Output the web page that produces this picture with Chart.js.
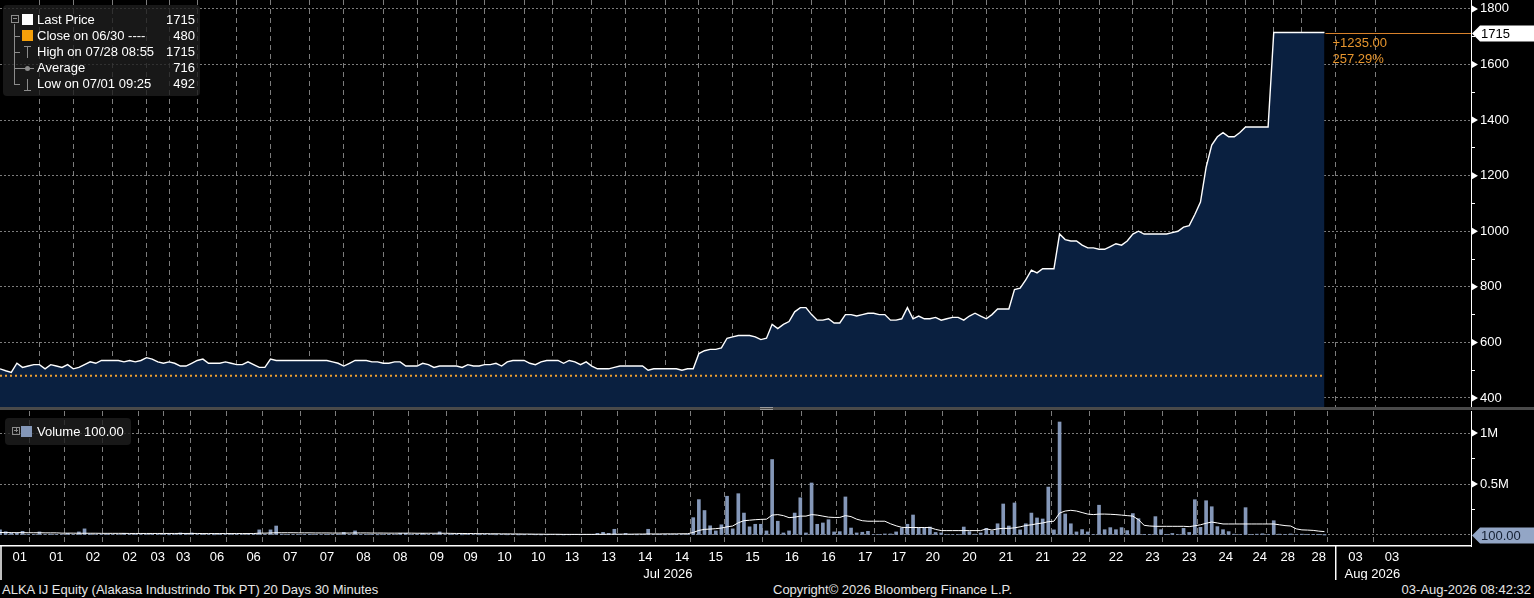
<!DOCTYPE html>
<html>
<head>
<meta charset="utf-8">
<script src="https://cdn.jsdelivr.net/npm/chart.js@4.4.1/dist/chart.umd.min.js"></script>
<style>
  body { margin: 0; background: #000; width: 1534px; height: 598px; overflow: hidden; position: relative;
         font-family: "Liberation Sans", Arial, sans-serif; font-size: 13px; color: #fff; }
  canvas { position: absolute; left: 0; }
  #priceChart { top: 0; }
  #volChart { top: 410px; }
  .sep { position: absolute; left: 0; top: 407px; width: 1534px; height: 3px; background: #4a4a4a; }
  .handle { position: absolute; left: 760px; width: 13px; height: 1px; background: #9a9a9a; }
  .legend { position: absolute; background: rgba(30, 30, 30, 0.8); border-radius: 4px; }
  .row { position: absolute; height: 16px; line-height: 16px; white-space: nowrap; }
  .val { position: absolute; height: 16px; line-height: 16px; text-align: right; width: 60px; }
  .ln { position: absolute; background: #8c8c8c; }
  .sq { position: absolute; width: 11px; height: 11px; }
  .box { position: absolute; width: 6px; height: 6px; border: 1px solid #8c8c8c; }
  .foot { position: absolute; top: 582px; height: 16px; line-height: 16px; color: #e6e6e6; white-space: nowrap; }
</style>
</head>
<body>
<canvas id="priceChart" width="1534" height="408"></canvas>
<canvas id="volChart" width="1534" height="170"></canvas>
<div class="sep"></div>
<div class="handle" style="top:407px"></div>
<div class="handle" style="top:409px"></div>

<div class="legend" style="left:3px; top:5px; width:197px; height:91px;">
  <div class="box" style="left:8px; top:10px;"></div><div class="ln" style="left:10px; top:13px; width:4px; height:1px;"></div>
  <div class="ln" style="left:11px; top:19px; width:1px; height:61px;"></div>
  <div class="ln" style="left:11px; top:31px; width:6px; height:1px;"></div>
  <div class="ln" style="left:11px; top:47px; width:6px; height:1px;"></div>
  <div class="ln" style="left:11px; top:63px; width:6px; height:1px;"></div>
  <div class="ln" style="left:11px; top:79px; width:6px; height:1px;"></div>
  <div class="sq" style="left:19px; top:9px; background:#fff;"></div>
  <div class="sq" style="left:19px; top:25px; background:#f5a00a;"></div>
  <div class="ln" style="left:21px; top:41px; width:7px; height:1px;"></div>
  <div class="ln" style="left:24px; top:41px; width:1px; height:12px;"></div>
  <div class="ln" style="left:17px; top:63px; width:14px; height:1px;"></div>
  <div class="ln" style="left:22px; top:61px; width:5px; height:5px; border-radius:3px;"></div>
  <div class="ln" style="left:24px; top:74px; width:1px; height:12px;"></div>
  <div class="ln" style="left:21px; top:85px; width:7px; height:1px;"></div>
  <div class="row" style="left:34px; top:7px;">Last Price</div>
  <div class="row" style="left:34px; top:23px;">Close on 06/30 ----</div>
  <div class="row" style="left:34px; top:39px;">High on 07/28 08:55</div>
  <div class="row" style="left:34px; top:55px;">Average</div>
  <div class="row" style="left:34px; top:71px;">Low on 07/01 09:25</div>
  <div class="val" id="vLast" style="left:132px; top:7px;"></div>
  <div class="val" id="vClose" style="left:132px; top:23px;"></div>
  <div class="val" id="vHigh" style="left:132px; top:39px;"></div>
  <div class="val" id="vAvg" style="left:132px; top:55px;"></div>
  <div class="val" id="vLow" style="left:132px; top:71px;"></div>
</div>

<div class="legend" style="left:5px; top:418px; width:126px; height:27px;">
  <div class="box" style="left:7px; top:9px;"></div>
  <div class="ln" style="left:9px; top:12px; width:4px; height:1px;"></div>
  <div class="ln" style="left:11px; top:10px; width:1px; height:4px;"></div>
  <div class="sq" style="left:16px; top:8px; background:#8497b8;"></div>
  <div class="row" style="left:32px; top:6px;" id="volLegend">Volume 100.00</div>
</div>

<div class="foot" style="left:2px;">ALKA IJ Equity (Alakasa Industrindo Tbk PT) 20 Days 30 Minutes</div>
<div class="foot" style="left:773px;">Copyright© 2026 Bloomberg Finance L.P.</div>
<div class="foot" style="right:3px;">03-Aug-2026 08:42:32</div>

<script>
// 30-minute bars, 07/01 .. 07/28 (Bloomberg intraday, 20 days)
const sessionLabels = ['01','01','02','02','03','03','06','06','07','07','08','08','09','09','10','10',
  '13','13','14','14','15','15','16','16','17','17','20','20','21','21','22','22','23','23','24','24',
  '28','28','03','03'];
const sessionBars = [7,6,7,6,4,5,7,6,7,6,7,6,7,5,7,5,7,6,7,6,6,7,7,6,7,5,7,6,7,6,7,6,7,6,7,5,5,6,7,6];
const monthLabels = ['Jul 2026', 'Aug 2026'];
const monthSessions = [38, 2];

const closePrice = 480;   // close on 06/30
const avgPrice = 716;

const price = [
  505, 498, 492, 525, 510, 515, 520, 520, 505, 520,
  515, 510, 520, 505, 510, 520, 530, 525, 535, 535,
  535, 535, 530, 535, 530, 535, 545, 540, 530, 525,
  530, 525, 515, 515, 525, 535, 540, 525, 525, 525,
  530, 525, 520, 520, 530, 520, 510, 510, 540, 535,
  535, 535, 535, 535, 535, 535, 535, 535, 535, 530,
  525, 515, 525, 535, 535, 535, 530, 530, 525, 525,
  530, 530, 515, 515, 515, 525, 520, 510, 515, 515,
  515, 515, 510, 520, 515, 515, 520, 520, 525, 515,
  530, 535, 535, 535, 525, 520, 530, 535, 535, 535,
  525, 535, 530, 520, 530, 515, 505, 505, 505, 510,
  515, 515, 515, 515, 515, 500, 505, 505, 505, 505,
  505, 500, 505, 505, 560, 570, 575, 575, 580, 615,
  620, 625, 625, 625, 620, 610, 615, 665, 650, 665,
  675, 710, 725, 725, 700, 680, 680, 685, 670, 670,
  700, 700, 695, 700, 705, 705, 700, 700, 680, 680,
  685, 725, 685, 695, 685, 685, 690, 680, 685, 690,
  690, 680, 695, 705, 695, 685, 700, 720, 720, 720,
  790, 795, 825, 860, 850, 865, 865, 865, 990, 970,
  965, 965, 950, 940, 940, 935, 935, 945, 955, 950,
  965, 990, 1000, 990, 990, 990, 990, 990, 995, 1000,
  1015, 1020, 1060, 1105, 1230, 1310, 1340, 1355, 1340, 1340,
  1355, 1375, 1375, 1375, 1375, 1375, 1715, 1715, 1715, 1715,
  1715, 1715, 1715, 1715, 1715, 1715
];

const volume = [
  50000, 32000, 20000, 16000, 36000, 8000, 6000, 30000, 5000, 8000,
  6000, 5000, 16000, 6000, 30000, 60000, 8000, 5000, 4000, 3000,
  6000, 5000, 16000, 4000, 3000, 5000, 4000, 3000, 6000, 3000,
  2000, 4000, 20000, 3000, 20000, 5000, 3000, 4000, 2000, 3000,
  6000, 4000, 3000, 5000, 4000, 8000, 50000, 6000, 50000, 88000,
  8000, 6000, 5000, 4000, 6000, 3000, 4000, 5000, 3000, 6000,
  8000, 26000, 5000, 40000, 6000, 4000, 3000, 2000, 4000, 3000,
  5000, 16000, 16000, 4000, 3000, 16000, 4000, 6000, 30000, 5000,
  3000, 4000, 2000, 3000, 5000, 2000, 3000, 4000, 2000, 3000,
  2000, 3000, 1000, 2000, 3000, 2000, 1000, 2000, 3000, 2000,
  1000, 2000, 3000, 2000, 4000, 3000, 16000, 26000, 16000, 56000,
  4000, 16000, 3000, 2000, 4000, 56000, 5000, 3000, 2000, 4000,
  3000, 5000, 8000, 170000, 347000, 240000, 90000, 40000, 100000, 380000,
  60000, 405000, 215000, 80000, 105000, 105000, 40000, 740000, 135000, 20000,
  40000, 215000, 365000, 20000, 510000, 105000, 118000, 150000, 30000, 33000,
  373000, 68000, 20000, 27000, 36000, 5000, 4000, 10000, 10000, 30000,
  68000, 105000, 196000, 70000, 70000, 78000, 25000, 20000, 5000, 5000,
  5000, 78000, 33000, 8000, 20000, 65000, 40000, 110000, 304000, 88000,
  314000, 50000, 110000, 215000, 167000, 157000, 470000, 50000, 1108000, 206000,
  110000, 30000, 53000, 30000, 5000, 292000, 52000, 72000, 52000, 72000,
  43000, 210000, 160000, 3000, 4000, 180000, 52000, 3000, 15000, 5000,
  65000, 25000, 346000, 75000, 336000, 277000, 82000, 52000, 33000, 8000,
  5000, 268000, 6000, 8000, 12000, 4000, 140000, 8000, 6000, 10000,
  5000, 8000, 6000, 4000, 3000, 100
];

// volume average line, in thousands
const volAvgK = [
  24, 24, 23, 23, 23, 22, 22, 22, 21, 21, 21,
  18, 18, 18, 17, 17, 17, 17, 16, 16, 16, 16, 16, 15, 15, 15, 15, 15, 15, 15, 15,
  15, 15, 15, 15, 15, 14, 14, 14, 14, 14, 14, 14, 14, 14, 14,
  18, 18, 20, 22, 22, 22, 22, 21, 21, 21, 20, 20, 20, 19, 19,
  19, 19, 20, 20, 20, 19, 19, 19, 18, 18, 18, 18, 18, 17, 17, 17, 17, 17, 17, 16,
  15, 15, 14, 14, 13, 13, 12, 12, 11, 11, 10, 10, 9, 9, 8,
  8, 7, 7, 7, 6, 6, 6, 6, 6, 6, 6, 7, 7, 8, 8, 8, 8, 9, 9, 10,
  10, 10, 11, 11, 11, 12, 12,
  25, 45, 55, 58, 62, 68, 80, 88, 120, 140,
  145, 150, 153, 155, 195, 200, 190, 170, 175, 185,
  185, 200, 195, 185, 175, 172, 172, 190, 180, 155,
  140, 135, 135, 135, 135, 110, 90, 75, 73, 73,
  73, 73, 73, 55, 43, 43, 43, 43, 43, 43,
  43, 43, 60, 48, 60, 65, 65, 70, 80, 93,
  100, 110, 118, 130, 135, 215, 235, 242, 235, 220,
  205, 200, 205, 205, 203, 200, 195, 190, 185, 150,
  95, 88, 85, 85, 85, 85, 85, 85, 82, 90,
  100, 115, 127, 118, 108, 108, 108, 108, 108, 108,
  108, 108, 108, 108, 100, 92, 88, 60, 50, 48,
  45, 38, 33
];

const priceTicks = [400, 500, 600, 700, 800, 900, 1000, 1100, 1200, 1300, 1400, 1500, 1600, 1700, 1800];
const volTicks = [0, 250000, 500000, 750000, 1000000];
const volTickLabels = { 500000: '0.5M', 1000000: '1M' };

const xMax = 261;

// build x ticks: session boundaries carry grid lines, session centres carry day labels
const xTicks = [];
let acc = 0;
sessionBars.forEach((n, k) => {
  xTicks.push({ v: acc + n / 2, label: sessionLabels[k], grid: false });
  acc += n;
  if (k < sessionBars.length - 1) xTicks.push({ v: acc, label: '', grid: true });
});
const monthStarts = [];
let sIdx = 0, bAcc = 0;
monthLabels.forEach((m, k) => {
  const start = bAcc;
  for (let j = 0; j < monthSessions[k]; j++) bAcc += sessionBars[sIdx + j];
  sIdx += monthSessions[k];
  monthStarts.push(start);
  xTicks.push({ v: (start + bAcc) / 2, label: ['', m], grid: false });
});
xTicks.sort((a, b) => a.v - b.v);

const lastIdx = price.length - 1;
const lastPrice = price[lastIdx];
const priceData = price.map((p, i) => ({ x: i, y: p }));
const volData = volume.map((v, i) => ({ x: i, y: v }));
const volAvgData = volAvgK.map((v, i) => ({ x: i, y: v * 1000 }));

document.getElementById('vLast').textContent = lastPrice;
document.getElementById('vClose').textContent = closePrice;
document.getElementById('vHigh').textContent = Math.max(...price);
document.getElementById('vAvg').textContent = avgPrice;
document.getElementById('vLow').textContent = Math.min(...price);
document.getElementById('volLegend').textContent = 'Volume ' + volume[lastIdx].toFixed(2);

Chart.defaults.animation = false;
Chart.defaults.font.family = '"Liberation Sans", Arial, sans-serif';
Chart.defaults.font.size = 13;
Chart.defaults.color = '#fff';

const gridCol = 'rgba(155,155,155,0.8)';
const clear = 'rgba(0,0,0,0)';
const orange = '#f0a030';

function noPad(s) {
  s.paddingTop = 0; s.paddingBottom = 0; s.paddingLeft = 0; s.paddingRight = 0;
}

function xScale(showLabels) {
  return {
    type: 'linear', min: 0, max: xMax, offset: false, z: 1,
    afterBuildTicks: (s) => { s.ticks = xTicks.map((t) => ({ value: t.v })); },
    afterFit: (s) => { s.height = showLabels ? 34 : 0; noPad(s); },
    grid: {
      drawTicks: false,
      color: (c) => (xTicks[c.index] && xTicks[c.index].grid) ? gridCol : clear
    },
    border: showLabels ? { display: true, color: '#fff', width: 1.5, dash: [5, 4] } : { display: false, dash: [5, 4] },
    ticks: {
      display: showLabels, autoSkip: false, maxRotation: 0, padding: 3,
      font: { size: 13, lineHeight: 1.3 },
      callback: (v, i) => xTicks[i] ? xTicks[i].label : ''
    }
  };
}

// small white triangles at labelled ticks of the right axis
function drawTriangles(chart) {
  const ctx = chart.ctx, y = chart.scales.y, r = chart.chartArea.right;
  ctx.save();
  ctx.fillStyle = '#fff';
  y.ticks.forEach((t) => {
    if (!t.label) return;
    const py = y.getPixelForValue(t.value);
    ctx.beginPath();
    ctx.moveTo(r + 1, py - 3.5);
    ctx.lineTo(r + 7, py);
    ctx.lineTo(r + 1, py + 3.5);
    ctx.closePath();
    ctx.fill();
  });
  ctx.restore();
}

function drawTag(ctx, r, py, text, fill, color) {
  ctx.fillStyle = fill;
  ctx.beginPath();
  ctx.moveTo(r + 1, py);
  ctx.lineTo(r + 9, py - 8);
  ctx.lineTo(1534, py - 8);
  ctx.lineTo(1534, py + 8);
  ctx.lineTo(r + 9, py + 8);
  ctx.closePath();
  ctx.fill();
  ctx.fillStyle = color;
  ctx.font = '13px "Liberation Sans", Arial, sans-serif';
  ctx.textBaseline = 'middle';
  ctx.textAlign = 'left';
  ctx.fillText(text, r + 10, py + 1);
}

const pricePlugin = {
  id: 'priceMarks',
  afterDraw(chart) {
    drawTriangles(chart);
    const ctx = chart.ctx, x = chart.scales.x, y = chart.scales.y, r = chart.chartArea.right;
    const px = x.getPixelForValue(lastIdx), py = Math.round(y.getPixelForValue(lastPrice)) + 0.5;
    ctx.save();
    ctx.strokeStyle = '#d9822b';
    ctx.lineWidth = 1.2;
    ctx.beginPath();
    ctx.moveTo(px + 1, py);
    ctx.lineTo(r, py);
    ctx.stroke();
    const change = lastPrice - closePrice;
    ctx.fillStyle = '#e8962e';
    ctx.font = '13px "Liberation Sans", Arial, sans-serif';
    ctx.textBaseline = 'middle';
    ctx.fillText('+' + change.toFixed(2), px + 8, py + 10);
    ctx.fillText((change / closePrice * 100).toFixed(2) + '%', px + 8, py + 26);
    drawTag(ctx, r, py, String(lastPrice), '#fff', '#000');
    ctx.restore();
  }
};

const volPlugin = {
  id: 'volMarks',
  afterDraw(chart) {
    drawTriangles(chart);
    const ctx = chart.ctx, x = chart.scales.x, y = chart.scales.y, a = chart.chartArea;
    ctx.save();
    ctx.strokeStyle = '#fff';
    ctx.lineWidth = 1.5;
    monthStarts.forEach((m) => {
      const px = Math.max(1, x.getPixelForValue(m));
      ctx.beginPath();
      ctx.moveTo(px, a.bottom);
      ctx.lineTo(px, a.bottom + 34);
      ctx.stroke();
    });
    drawTag(ctx, a.right, Math.round(y.getPixelForValue(volume[lastIdx])) + 0.5,
      volume[lastIdx].toFixed(2), '#93a6c6', '#142033');
    ctx.restore();
  }
};

new Chart(document.getElementById('priceChart'), {
  type: 'line',
  data: {
    datasets: [
      {
        data: priceData, borderColor: '#fff', borderWidth: 1.4, backgroundColor: '#0a2040',
        fill: 'start', pointRadius: 0, tension: 0, order: 1
      },
      {
        data: [{ x: 0, y: closePrice }, { x: lastIdx, y: closePrice }], borderColor: orange,
        borderWidth: 2, borderDash: [2, 3], pointRadius: 0, fill: false, order: 0
      }
    ]
  },
  options: {
    responsive: false,
    layout: { padding: 0 },
    plugins: { legend: { display: false }, tooltip: { enabled: false } },
    scales: {
      x: xScale(false),
      y: {
        position: 'right', min: 364, max: 1832, z: 1,
        afterBuildTicks: (s) => { s.ticks = priceTicks.map((v) => ({ value: v })); },
        afterFit: (s) => { s.width = 63; noPad(s); },
        grid: {
          tickLength: 4,
          color: (c) => (c.tick && c.tick.value % 200 === 0) ? gridCol : clear,
          tickColor: (c) => (c.tick && c.tick.value % 200 === 0) ? clear : '#fff'
        },
        border: { display: true, color: '#fff', width: 1, dash: [2, 2] },
        ticks: { padding: 5, callback: (v) => (v % 200 === 0 ? String(v) : '') }
      }
    }
  },
  plugins: [pricePlugin]
});

new Chart(document.getElementById('volChart'), {
  type: 'bar',
  data: {
    datasets: [
      { type: 'line', data: volAvgData, borderColor: '#fff', borderWidth: 1, pointRadius: 0, tension: 0, order: 0 },
      { type: 'bar', data: volData, backgroundColor: '#8497b8', barThickness: 3, order: 1 }
    ]
  },
  options: {
    responsive: false,
    layout: { padding: { top: 1 } },
    plugins: { legend: { display: false }, tooltip: { enabled: false } },
    scales: {
      x: xScale(true),
      y: {
        position: 'right', min: -108000, max: 1216000, z: 1,
        afterBuildTicks: (s) => { s.ticks = volTicks.map((v) => ({ value: v })); },
        afterFit: (s) => { s.width = 63; noPad(s); },
        grid: {
          tickLength: 4,
          color: (c) => (c.tick && c.tick.value % 500000 === 0) ? gridCol : clear,
          tickColor: (c) => (c.tick && c.tick.value % 500000 === 0) ? clear : '#fff'
        },
        border: { display: true, color: '#fff', width: 1, dash: [2, 2] },
        ticks: { padding: 5, callback: (v) => volTickLabels[v] || '' }
      }
    }
  },
  plugins: [volPlugin]
});
</script>
</body>
</html>
